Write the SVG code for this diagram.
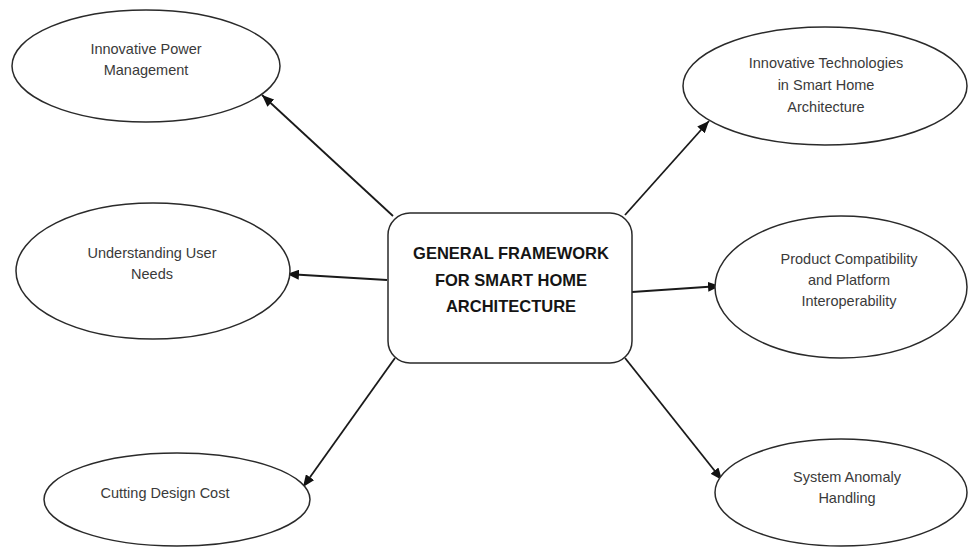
<svg xmlns="http://www.w3.org/2000/svg" width="969" height="547" viewBox="0 0 969 547">
<style>
.node ellipse, .node rect { fill: #ffffff; stroke: #2a2a2a; stroke-width: 1.5; }
.lbl { font-family: "Liberation Sans", Arial, sans-serif; font-size: 14.5px; fill: #3a3a3a; text-anchor: middle; }
.title { font-family: "Liberation Sans", Arial, sans-serif; font-size: 16.5px; font-weight: bold; fill: #151515; text-anchor: middle; }
.conn line { stroke: #1a1a1a; stroke-width: 1.8; marker-end: url(#arr); }
</style>
<defs>
<marker id="arr" markerUnits="userSpaceOnUse" markerWidth="12" markerHeight="10" viewBox="0 0 12 10" refX="12" refY="5" orient="auto">
<path d="M0,0 L12,5 L0,10 Z" fill="#111"/>
</marker>
</defs>
<rect width="969" height="547" fill="#ffffff"/>
<g id="connectors" class="conn">
<line x1="393" y1="216" x2="262" y2="95"/>
<line x1="625" y1="215" x2="709" y2="121"/>
<line x1="387" y1="280" x2="287" y2="274"/>
<line x1="632" y1="292" x2="720" y2="286"/>
<line x1="395" y1="358" x2="303" y2="487"/>
<line x1="625" y1="358" x2="722" y2="480"/>
</g>
<g id="center" class="node">
<rect x="388" y="213" width="244" height="150" rx="22" ry="22"/>
<text class="title" x="511" y="259">GENERAL FRAMEWORK</text>
<text class="title" x="511" y="286">FOR SMART HOME</text>
<text class="title" x="511" y="312">ARCHITECTURE</text>
</g>
<g id="power" class="node">
<ellipse cx="146" cy="66" rx="134" ry="56"/>
<text class="lbl" x="146" y="54">Innovative Power</text>
<text class="lbl" x="146" y="75">Management</text>
</g>
<g id="tech" class="node">
<ellipse cx="825" cy="86" rx="142" ry="59"/>
<text class="lbl" x="826" y="68">Innovative Technologies</text>
<text class="lbl" x="826" y="90">in Smart Home</text>
<text class="lbl" x="826" y="112">Architecture</text>
</g>
<g id="user" class="node">
<ellipse cx="153" cy="271" rx="137" ry="68"/>
<text class="lbl" x="152" y="258">Understanding User</text>
<text class="lbl" x="152" y="279">Needs</text>
</g>
<g id="compat" class="node">
<ellipse cx="841" cy="287" rx="126" ry="71"/>
<text class="lbl" x="849" y="264">Product Compatibility</text>
<text class="lbl" x="849" y="285">and Platform</text>
<text class="lbl" x="849" y="306">Interoperability</text>
</g>
<g id="cost" class="node">
<ellipse cx="177" cy="499.5" rx="133" ry="46.5"/>
<text class="lbl" x="165" y="498">Cutting Design Cost</text>
</g>
<g id="anomaly" class="node">
<ellipse cx="841" cy="492.5" rx="126" ry="53.5"/>
<text class="lbl" x="847" y="482">System Anomaly</text>
<text class="lbl" x="847" y="503">Handling</text>
</g>
</svg>
